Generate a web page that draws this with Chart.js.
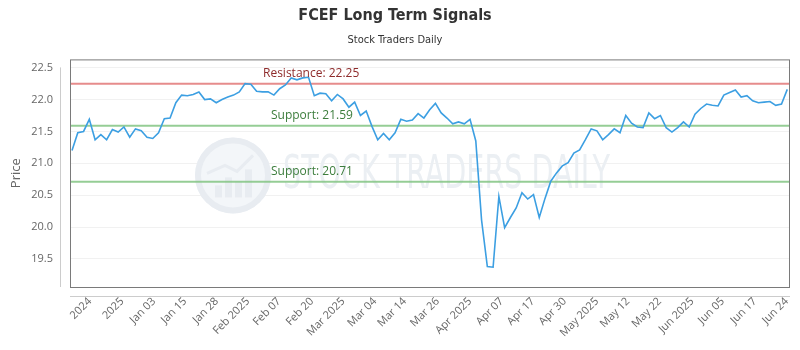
<!DOCTYPE html>
<html>
<head>
<meta charset="utf-8">
<script src="https://cdn.jsdelivr.net/npm/chart.js@4.4.1/dist/chart.umd.min.js"></script>
<style>
  html, body { margin: 0; padding: 0; background: #fff; }
</style>
</head>
<body>
<canvas id="signals" width="800" height="350"></canvas>
<script>
// ---- data ----
const prices = [
  21.20, 21.48, 21.50, 21.69, 21.37, 21.45, 21.37, 21.53, 21.49, 21.57,
  21.41, 21.54, 21.51, 21.41, 21.39, 21.48, 21.70, 21.71, 21.95, 22.07,
  22.06, 22.08, 22.12, 22.00, 22.01, 21.95, 22.00, 22.04, 22.07, 22.12,
  22.25, 22.24, 22.13, 22.12, 22.12, 22.07, 22.17, 22.23, 22.34, 22.31,
  22.34, 22.35, 22.06, 22.10, 22.09, 21.98, 22.08, 22.01, 21.88, 21.96,
  21.75, 21.82, 21.58, 21.37, 21.47, 21.37, 21.48, 21.69, 21.66, 21.68,
  21.78, 21.71, 21.84, 21.94, 21.79, 21.71, 21.62, 21.65, 21.62, 21.69,
  21.35, 20.11, 19.38, 19.37, 20.48, 19.99, 20.15, 20.30, 20.54, 20.44,
  20.51, 20.15, 20.45, 20.72, 20.85, 20.96, 21.01, 21.16, 21.21, 21.37,
  21.54, 21.51, 21.37, 21.45, 21.54, 21.48, 21.75, 21.63, 21.57, 21.56,
  21.79, 21.70, 21.75, 21.56, 21.49, 21.56, 21.65, 21.57, 21.77, 21.86,
  21.93, 21.91, 21.90, 22.07, 22.11, 22.15, 22.04, 22.06, 21.98, 21.95,
  21.96, 21.97, 21.91, 21.93, 22.16
];

const tickLabels = [
  '2024', '2025', 'Jan 03', 'Jan 15', 'Jan 28', 'Feb 2025', 'Feb 07', 'Feb 20',
  'Mar 2025', 'Mar 04', 'Mar 14', 'Mar 26', 'Apr 2025', 'Apr 07', 'Apr 17',
  'Apr 30', 'May 2025', 'May 12', 'May 22', 'Jun 2025', 'Jun 05', 'Jun 17', 'Jun 24'
];
// where each label sits, in point index units
const tickPositions = [
  3.1, 8.7, 14.2, 19.6, 25.1, 30.5, 35.9, 41.6, 47.0, 52.5, 57.7, 63.4,
  69.0, 74.5, 79.9, 85.4, 91.0, 96.4, 101.9, 107.5, 112.8, 118.4, 123.9
];

const yTicks = [19.5, 20.0, 20.5, 21.0, 21.5, 22.0, 22.5];
const resistanceLevels = [22.25];
const supportLevels = [21.59, 20.71];

// ---- drawing helpers ----
const AXIS_FONT = '"Open Sans", "DejaVu Sans", sans-serif';
const NARROW_FONT = '"Liberation Sans Narrow", "DejaVu Sans Condensed", sans-serif';

function drawLevel(ctx, area, yPix, lineColor) {
  ctx.save();
  ctx.strokeStyle = lineColor;
  ctx.lineWidth = 2;
  ctx.beginPath();
  ctx.moveTo(area.left, yPix);
  ctx.lineTo(area.right, yPix);
  ctx.stroke();
  ctx.restore();
}

function drawLevelLabel(ctx, x, yPix, text, color) {
  ctx.save();
  ctx.font = '12px ' + AXIS_FONT;
  ctx.fillStyle = color;
  ctx.textAlign = 'left';
  ctx.textBaseline = 'middle';
  ctx.fillText(text, x, yPix - 10);
  ctx.restore();
}

function drawWatermark(ctx, area) {
  const cx = area.left + 163, cy = area.top + 116, r = 38;
  ctx.save();
  ctx.fillStyle = '#f3f6f9';
  ctx.beginPath();
  ctx.arc(cx, cy, r, 0, Math.PI * 2);
  ctx.fill();
  ctx.strokeStyle = '#e8ecf1';
  ctx.lineWidth = 6;
  ctx.beginPath();
  ctx.arc(cx, cy, r - 3, 0, Math.PI * 2);
  ctx.stroke();
  ctx.fillStyle = '#e8ecf1';
  [[-18, 12], [-8, 20], [2, 16], [12, 28]].forEach(([dx, h]) => {
    ctx.fillRect(cx + dx, cy + 22 - h, 7, h);
  });
  ctx.strokeStyle = '#e8ecf1';
  ctx.lineWidth = 3;
  ctx.beginPath();
  ctx.moveTo(cx - 26, cy - 2);
  ctx.lineTo(cx - 8, cy - 10);
  ctx.lineTo(cx + 4, cy - 4);
  ctx.lineTo(cx + 20, cy - 20);
  ctx.stroke();

  const text = 'STOCK TRADERS DAILY';
  ctx.font = '46px ' + NARROW_FONT;
  const w = ctx.measureText(text).width;
  const target = 327;
  ctx.translate(area.left + 213, area.top + 117);
  ctx.scale(target / w, 1);
  ctx.fillStyle = '#ebeff3';
  ctx.textBaseline = 'middle';
  ctx.textAlign = 'left';
  ctx.fillText(text, 0, 0);
  ctx.restore();
}

const decorations = {
  id: 'decorations',
  beforeDatasetsDraw(chart) {
    const { ctx, chartArea: area, scales: { y } } = chart;
    drawWatermark(ctx, area);
    resistanceLevels.forEach(v => drawLevel(ctx, area, y.getPixelForValue(v), 'rgba(226,120,120,0.85)'));
    supportLevels.forEach(v => drawLevel(ctx, area, y.getPixelForValue(v), 'rgba(130,196,130,0.85)'));
  },
  afterDatasetsDraw(chart) {
    const { ctx, chartArea: area, scales: { y } } = chart;
    resistanceLevels.forEach(v =>
      drawLevelLabel(ctx, area.left + 193, y.getPixelForValue(v), 'Resistance: ' + v.toFixed(2), '#8e2b2b'));
    supportLevels.forEach(v =>
      drawLevelLabel(ctx, area.left + 201, y.getPixelForValue(v), 'Support: ' + v.toFixed(2), '#3c7d3c'));
  },
  afterDraw(chart) {
    const { ctx, chartArea: a } = chart;
    ctx.save();
    // plot frame
    ctx.strokeStyle = '#7a7a7a';
    ctx.lineWidth = 1;
    ctx.strokeRect(a.left + 0.5, a.top + 0.5, a.right - a.left - 1, a.bottom - a.top);
    // offset axis lines
    ctx.strokeStyle = '#cccccc';
    ctx.beginPath();
    ctx.moveTo(a.left - 9.5, a.top + 8);
    ctx.lineTo(a.left - 9.5, a.bottom);
    ctx.moveTo(a.left, a.bottom + 9.5);
    ctx.lineTo(a.right, a.bottom + 9.5);
    ctx.stroke();
    ctx.restore();
  }
};

new Chart(document.getElementById('signals').getContext('2d'), {
  type: 'line',
  data: {
    datasets: [{
      label: 'FCEF',
      data: prices.map((p, i) => ({ x: i, y: p })),
      borderColor: '#3c9fe2',
      borderWidth: 1.6,
      pointRadius: 0,
      tension: 0,
      fill: false
    }]
  },
  options: {
    responsive: false,
    animation: false,
    devicePixelRatio: 1,
    layout: { padding: { left: 0, right: 10, top: 0, bottom: 0 } },
    plugins: {
      legend: { display: false },
      tooltip: { enabled: false },
      title: {
        display: true,
        text: 'FCEF Long Term Signals',
        color: '#333333',
        font: { family: NARROW_FONT, size: 16, weight: 'bold' },
        padding: { top: 6, bottom: 4 }
      },
      subtitle: {
        display: true,
        text: 'Stock Traders Daily',
        color: '#333333',
        font: { family: NARROW_FONT, size: 11 },
        padding: { top: 4, bottom: 13 }
      }
    },
    scales: {
      x: {
        type: 'linear',
        min: -0.35,
        max: 124.47,
        grid: { display: false, drawTicks: false },
        border: { display: false },
        afterBuildTicks: scale => {
          scale.ticks = tickPositions.map(v => ({ value: v }));
        },
        afterFit: scale => {
          scale.height = 63;
          scale.paddingLeft = 0;
          scale.paddingRight = 0;
        },
        ticks: {
          autoSkip: false,
          maxRotation: 45,
          minRotation: 45,
          padding: 8,
          color: '#666666',
          font: { family: AXIS_FONT, size: 11 },
          callback: (v, i) => tickLabels[i]
        }
      },
      y: {
        min: 19.06,
        max: 22.63,
        grid: { color: '#f1f1f1', drawTicks: false },
        border: { display: false },
        afterBuildTicks: scale => {
          scale.ticks = yTicks.map(v => ({ value: v }));
        },
        afterFit: scale => { scale.width = 70; },
        ticks: {
          padding: 17,
          color: '#666666',
          font: { family: AXIS_FONT, size: 11 },
          callback: v => v.toFixed(1)
        },
        title: {
          display: true,
          text: 'Price',
          color: '#666666',
          font: { family: AXIS_FONT, size: 13 },
          padding: { top: 8, bottom: 0 }
        }
      }
    }
  },
  plugins: [decorations]
});
</script>
</body>
</html>
